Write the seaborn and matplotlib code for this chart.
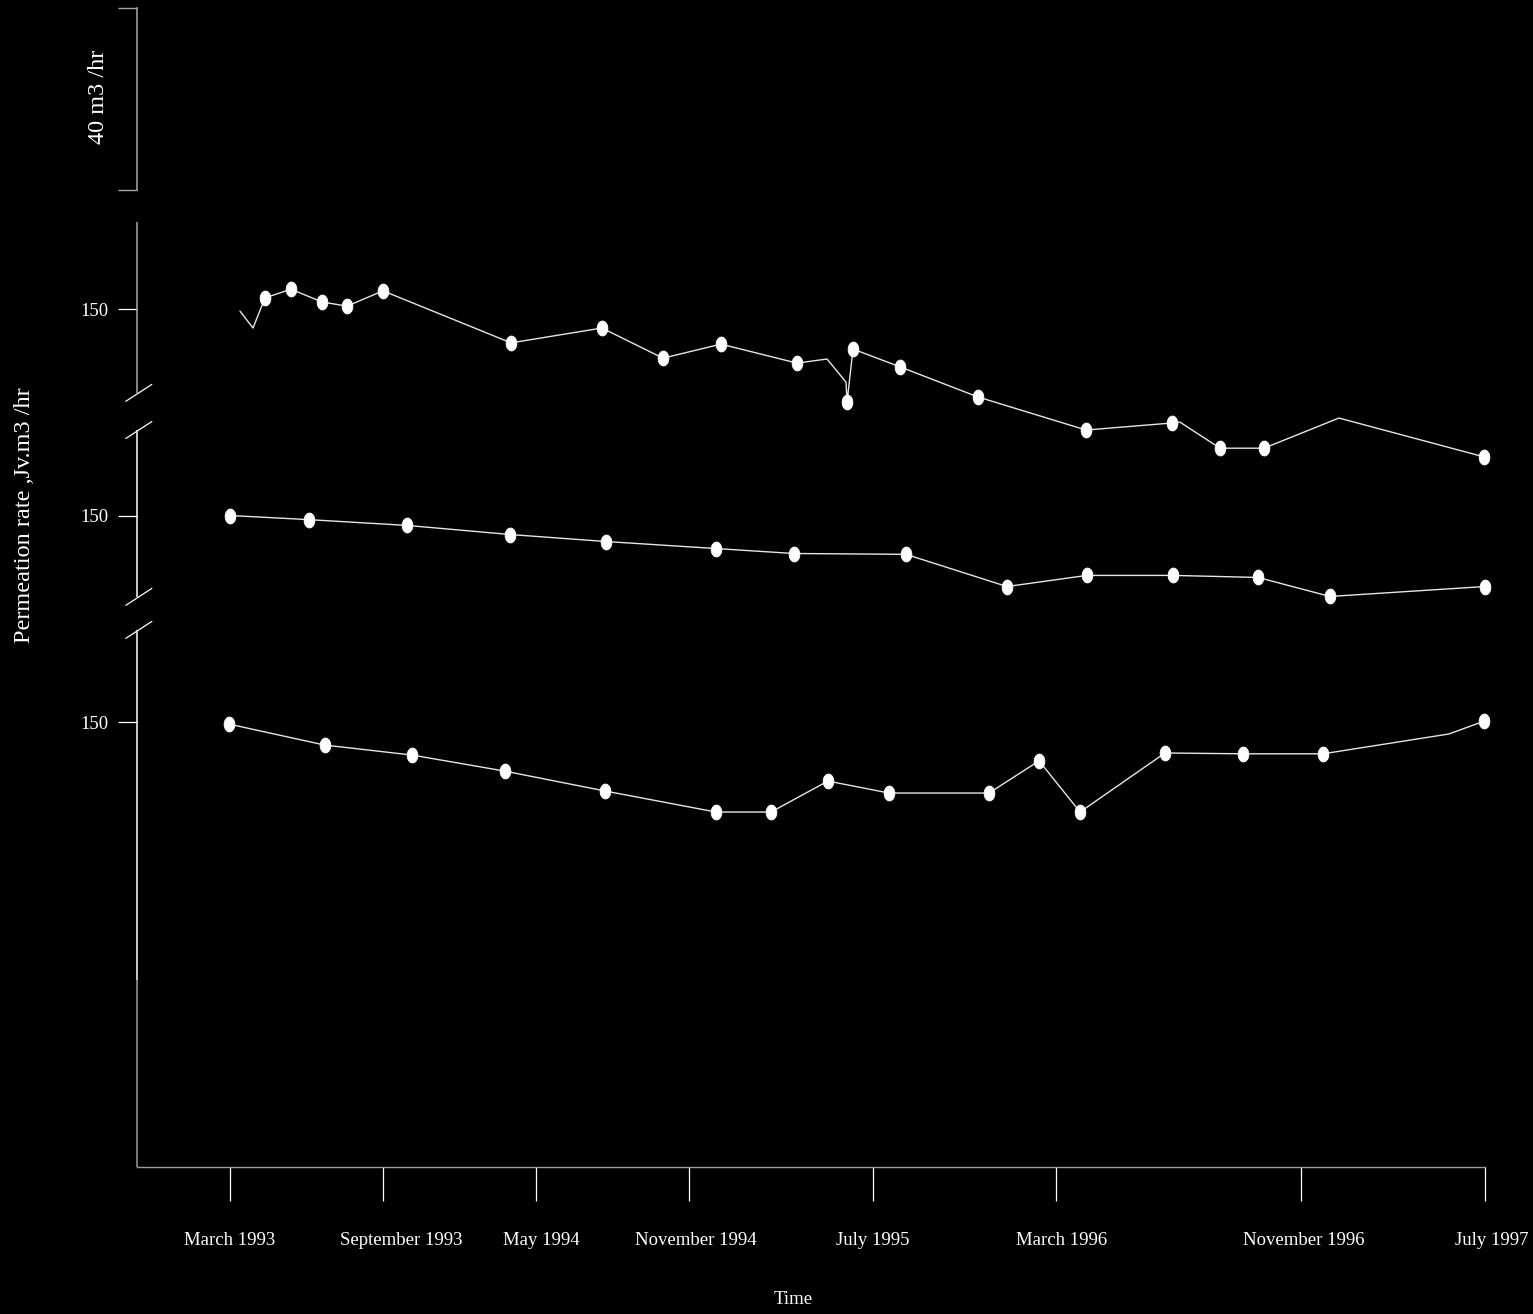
import numpy as np
import pandas as pd
import matplotlib
matplotlib.use("Agg")
import matplotlib.pyplot as plt
import matplotlib.transforms as mtransforms
import seaborn as sns

# Time positions are in tick units (March 1993 = 0, September 1993 = 1, ...)
tick_pos = [0, 1, 2, 3, 4.2, 5.4, 7, 8.2]
tick_labels = ["March 1993", "September 1993", "May 1994", "November 1994",
               "July 1995", "March 1996", "November 1996", "July 1997"]

# Upper line (permeation rate, m3/hr)
top_x = [0.065, 0.150, 0.229, 0.399, 0.601, 0.765, 1.000, 1.837, 2.431, 2.830,
         3.209, 3.706, 3.902, 4.026, 4.033, 4.072, 4.379, 4.889, 5.595, 6.157,
         6.209, 6.471, 6.758, 7.248, 8.196]
top_y = [149.5, 145.4, 152.7, 154.8, 151.7, 150.7, 154.4, 141.8, 145.4, 138.1,
         141.5, 136.9, 137.9, 132.3, 127.5, 140.3, 136.0, 128.7, 120.7, 122.4,
         122.6, 116.3, 116.3, 123.6, 114.2]
top_mark = [0, 0, 1, 1, 1, 1, 1, 1, 1, 1,
            1, 1, 0, 0, 1, 1, 1, 1, 1, 1,
            0, 1, 1, 0, 1]

# Middle line
mid_x = [0.000, 0.516, 1.157, 1.830, 2.458, 3.176, 3.686, 4.418, 5.078, 5.601,
         6.163, 6.719, 7.190, 8.200]
mid_y = [150.0, 149.0, 147.6, 145.4, 143.7, 142.0, 140.8, 140.6, 132.8, 135.5,
         135.5, 135.0, 130.4, 132.8]
mid_mark = [1] * len(mid_x)

# Lower line
low_x = [-0.007, 0.621, 1.190, 1.797, 2.451, 3.176, 3.536, 3.908, 4.307, 4.961,
         5.288, 5.556, 6.111, 6.621, 7.144, 7.967, 8.196]
low_y = [149.5, 144.4, 142.0, 138.1, 133.3, 128.2, 128.2, 135.7, 132.8, 132.8,
         140.6, 128.2, 142.5, 142.3, 142.3, 147.1, 150.2]
low_mark = [1, 1, 1, 1, 1, 1, 1, 1, 1, 1,
            1, 1, 1, 1, 1, 0, 1]

# Each line sits in its own band of the broken axis
band_shift = [150, 100, 50]
band_ticks = [300, 250, 200]
ylims = (92.25, 321.07)
# axis gaps (upper end, lower end) between bands
breaks = [(279.7, 270.7), (230.3, 222.3)]

sns.set_theme(style="dark", rc={
    "figure.facecolor": "black",
    "axes.facecolor": "black",
    "axes.edgecolor": "#9a9a9a",
    "text.color": "white",
    "xtick.color": "white",
    "ytick.color": "white",
    "axes.labelcolor": "white",
})
plt.rcParams["font.family"] = ["Liberation Serif", "DejaVu Serif"]

W, H = 1533, 1314
fig = plt.figure(figsize=(W / 100, H / 100), dpi=100)
fig.patch.set_facecolor("black")

x0, x1 = 137, 1484.6
ax = fig.add_axes([x0 / W, 1 - 1167 / H, (x1 - x0) / W, (1167 - 222) / H])
ax.set_facecolor("black")

t = np.linspace(0, 2 * np.pi, 40)
ellipse = list(zip(0.72 * np.cos(t), np.sin(t)))

series = [(top_x, top_y, top_mark), (mid_x, mid_y, mid_mark), (low_x, low_y, low_mark)]
frames = []
for i, (xs, ys, ms) in enumerate(series):
    frames.append(pd.DataFrame({"time": xs, "rate": np.array(ys) + band_shift[i],
                                "marked": np.array(ms, dtype=bool), "line": i}))
df = pd.concat(frames, ignore_index=True)

for i, g in df.groupby("line"):
    sns.lineplot(data=g, x="time", y="rate", sort=False, estimator=None,
                 color="#e6e6e6", lw=1.0, ax=ax, legend=False)
pts = df[df["marked"]]
sns.scatterplot(data=pts, x="time", y="rate", marker=ellipse, s=115,
                color="white", edgecolor="white", linewidth=0.6, ax=ax,
                legend=False, clip_on=False, zorder=4)

ax.set_xlim(-0.608, 8.2)
ax.set_ylim(*ylims)
for s in ["top", "right", "left"]:
    ax.spines[s].set_visible(False)
ax.spines["bottom"].set_color("#9a9a9a")
ax.spines["bottom"].set_linewidth(1.0)

# broken left axis
yt = ax.get_yaxis_transform()
segs = [((ylims[1], breaks[0][0]), "#a8a8a8"),
        ((breaks[0][1], breaks[1][0]), "white"),
        ((breaks[1][1], 137.5), "white"),
        ((137.5, ylims[0]), "#9a9a9a")]
for (ya, yb), c in segs:
    ax.plot([0, 0], [ya, yb], transform=yt, color=c, lw=1.1, clip_on=False,
            solid_capstyle="butt")
for pair in breaks:
    for yb in pair:
        ax.plot([-0.0083, 0.011], [yb - 2.05, yb + 2.05], transform=yt,
                color="white", lw=0.9, clip_on=False)

ax.set_xticks(tick_pos)
ax.set_xticklabels(tick_labels, fontsize=13.5)
ax.tick_params(axis="x", length=24.5, width=0.9, pad=22, colors="white",
               bottom=True)
# small horizontal nudges of the date labels (points)
label_nudge = [0, 13, 4, 5, 0, 4, 2, 5]
for lab, dx in zip(ax.get_xticklabels(), label_nudge):
    lab.set_transform(lab.get_transform() +
                      mtransforms.ScaledTranslation(dx / 72, 0, fig.dpi_scale_trans))

ax.set_yticks(band_ticks)
ax.set_yticklabels(["150"] * 3, fontsize=13.5)
ax.tick_params(axis="y", length=13.7, width=0.9, pad=7, colors="white", left=True)
ax.yaxis.get_major_ticks()[0].tick1line.set_color("#a8a8a8")
ax.grid(False)

ax.set_xlabel("Time", fontsize=13.5, ha="center", va="center")
ax.xaxis.set_label_coords((793 - x0) / (x1 - x0), (1167 - 1300) / 945)
ax.set_ylabel("Permeation rate ,Jv.m3 /hr", fontsize=17.5, ha="center", va="center")
ax.yaxis.set_label_coords((25 - x0) / (x1 - x0), (1167 - 515) / 945)

# scale bracket above the plot
bx = fig.add_axes([x0 / W, 1 - 190 / H, (x1 - x0) / W, 182 / H])
bx.set_facecolor("none")
bx.patch.set_alpha(0)
for s in ["top", "right", "bottom"]:
    bx.spines[s].set_visible(False)
bx.spines["left"].set_color("#a8a8a8")
bx.spines["left"].set_linewidth(1.1)
bx.set_ylim(0, 1)
bx.set_yticks([0, 1])
bx.set_yticklabels([])
bx.set_xticks([])
bx.tick_params(axis="y", length=13.7, width=1.0, colors="#a8a8a8", left=True)
bx.grid(False)
bx.set_ylabel("40 m3 /hr", fontsize=17.5, color="white", ha="center", va="center")
bx.yaxis.set_label_coords((98 - x0) / (x1 - x0), (190 - 97) / 182)

fig.savefig("out.png", dpi=100, facecolor="black")
